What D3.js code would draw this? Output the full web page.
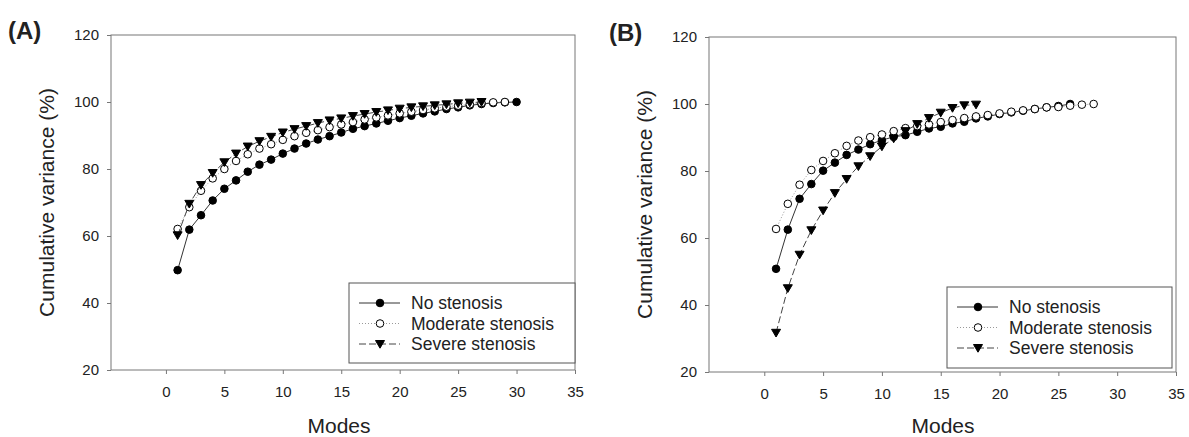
<!DOCTYPE html>
<html>
<head>
<meta charset="utf-8">
<script src="https://cdn.jsdelivr.net/npm/d3@7"></script>
<style>
  body { margin: 0; background: #fff; }
  svg { display: block; font-family: "Liberation Sans", Arial, sans-serif; }
  .tick text { fill: #222; font-size: 15px; }
  .tick line { stroke: #777; }
</style>
</head>
<body>
<svg id="chart" width="1189" height="437"></svg>
<script>
// Cumulative variance (%) by mode number (mode = position + 1)
const noStenosisA = [49.8, 61.9, 66.2, 70.6, 74.1, 76.6, 79.2, 81.3, 82.8, 84.6, 86.1, 87.6, 88.8, 89.8, 90.9,
    92.0, 92.8, 93.6, 94.4, 95.2, 95.9, 96.6, 97.2, 97.9, 98.4, 99.0, 99.4, 99.7, 99.9, 100];
const moderateA = [62.1, 68.6, 73.5, 77.2, 80.0, 82.4, 84.4, 86.1, 87.4, 88.7, 89.8, 90.8, 91.6, 92.5, 93.3,
    94.0, 94.8, 95.4, 96.0, 96.6, 97.1, 97.6, 98.1, 98.6, 98.9, 99.3, 99.7, 99.9, 100];
const severeA = [60.2, 69.6, 75.2, 78.8, 82.0, 84.6, 86.7, 88.3, 89.6, 90.9, 91.9, 92.8, 93.7, 94.5, 95.1,
    95.8, 96.4, 97.0, 97.5, 98.0, 98.4, 98.7, 99.0, 99.3, 99.6, 99.8, 100];

const noStenosisB = [50.8, 62.5, 71.7, 76.1, 80.1, 82.5, 84.8, 86.4, 88.0, 89.2, 90.2, 90.7, 91.7, 92.7, 93.2,
    94.2, 94.7, 95.7, 96.3, 97.0, 97.5, 98.0, 98.5, 99.0, 99.4, 100];
const moderateB = [62.7, 70.2, 75.9, 80.3, 83.0, 85.3, 87.5, 89.1, 90.1, 90.9, 91.9, 92.8, 93.4, 93.9, 94.6,
    95.2, 95.8, 96.3, 96.7, 97.2, 97.7, 98.1, 98.5, 99.0, 99.1, 99.5, 99.8, 100];
const severeB = [31.7, 45.0, 55.0, 62.3, 68.2, 73.4, 77.6, 81.4, 84.4, 87.3, 89.7, 91.9, 94.0, 95.8, 97.4,
    98.8, 99.6, 99.8];

const seriesNames = ["No stenosis", "Moderate stenosis", "Severe stenosis"];
const xTicks = [0, 5, 10, 15, 20, 25, 30, 35];
const yTicks = [20, 40, 60, 80, 100, 120];

const svg = d3.select("#chart");

// line / marker style per series
const styles = [
    {dash: null, stroke: "#333", fill: "#000", shape: "circle"},
    {dash: "1,2", stroke: "#999", fill: "#fff", shape: "circle"},
    {dash: "7,3", stroke: "#444", fill: "#000", shape: "triangle"}
];

function marker(g, shape, x, y) {
    if (shape === "circle") {
        g.append("circle").attr("cx", x).attr("cy", y).attr("r", 3.8);
    } else {
        g.append("path").attr("d", `M${x - 4.5},${y - 3.5}L${x + 4.5},${y - 3.5}L${x},${y + 4.2}Z`);
    }
}

function drawPanel(cfg) {
    const x = d3.scaleLinear().domain([-4.7, 35]).range([cfg.left, cfg.right]);
    const y = d3.scaleLinear().domain([20, 120]).range([cfg.bottom, cfg.top]);

    // frame
    svg.append("rect")
        .attr("x", cfg.left).attr("y", cfg.top)
        .attr("width", cfg.right - cfg.left).attr("height", cfg.bottom - cfg.top)
        .attr("fill", "none").attr("stroke", "#777");

    const gx = svg.append("g")
        .attr("transform", `translate(0,${cfg.bottom})`)
        .call(d3.axisBottom(x).tickValues(xTicks).tickSize(4).tickPadding(12));
    gx.select(".domain").remove();

    const gy = svg.append("g")
        .attr("transform", `translate(${cfg.left},0)`)
        .call(d3.axisLeft(y).tickValues(yTicks).tickSize(4).tickPadding(8));
    gy.select(".domain").remove();

    // series
    cfg.series.forEach((vals, i) => {
        const st = styles[i];
        const pts = vals.map((v, k) => [x(k + 1), y(v)]);
        svg.append("path")
            .attr("d", d3.line()(pts))
            .attr("fill", "none")
            .attr("stroke", st.stroke)
            .attr("stroke-width", 1)
            .attr("stroke-dasharray", st.dash);
        const mg = svg.append("g").attr("fill", st.fill).attr("stroke", "#000").attr("stroke-width", 1);
        pts.forEach(p => marker(mg, st.shape, p[0], p[1]));
    });

    // legend
    const lg = cfg.legend;
    svg.append("rect")
        .attr("x", lg.x).attr("y", lg.y).attr("width", lg.w).attr("height", lg.h)
        .attr("fill", "#fff").attr("stroke", "#555");
    seriesNames.forEach((name, i) => {
        const st = styles[i];
        const ly = lg.y + 20 + i * 20.5;
        svg.append("line")
            .attr("x1", lg.x + 10).attr("x2", lg.x + 51)
            .attr("y1", ly).attr("y2", ly)
            .attr("stroke", st.stroke).attr("stroke-dasharray", st.dash);
        const mg = svg.append("g").attr("fill", st.fill).attr("stroke", "#000");
        marker(mg, st.shape, lg.x + 31, ly);
        svg.append("text")
            .attr("x", lg.x + 62).attr("y", ly + 6)
            .attr("font-size", 17.5).attr("fill", "#222")
            .text(name);
    });

    // titles
    svg.append("text")
        .attr("x", cfg.labelX).attr("y", cfg.labelY)
        .attr("font-size", 24).attr("font-weight", "bold").attr("fill", "#222")
        .text(cfg.label);
    svg.append("text")
        .attr("transform", `translate(${cfg.yTitleX},${(cfg.top + cfg.bottom) / 2}) rotate(-90)`)
        .attr("text-anchor", "middle").attr("font-size", 21).attr("fill", "#222")
        .text("Cumulative variance (%)");
    svg.append("text")
        .attr("x", cfg.xTitleX).attr("y", 433)
        .attr("text-anchor", "middle").attr("font-size", 21).attr("fill", "#222")
        .text("Modes");
}

drawPanel({
    left: 111, right: 575, top: 35, bottom: 370,
    series: [noStenosisA, moderateA, severeA],
    legend: {x: 349, y: 283, w: 226, h: 80},
    label: "(A)", labelX: 8, labelY: 39,
    yTitleX: 54, xTitleX: 339
});

drawPanel({
    left: 709, right: 1176, top: 37, bottom: 372,
    series: [noStenosisB, moderateB, severeB],
    legend: {x: 947, y: 287, w: 225, h: 81},
    label: "(B)", labelX: 609, labelY: 41,
    yTitleX: 652, xTitleX: 943
});
</script>
</body>
</html>
